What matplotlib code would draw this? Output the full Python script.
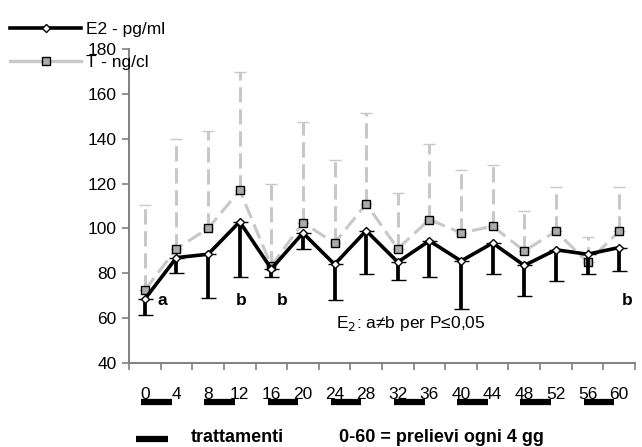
import matplotlib
matplotlib.use("Agg")
import matplotlib.pyplot as plt
import matplotlib.transforms as mtrans
from matplotlib.lines import Line2D

plt.rcParams["font.family"] = ["Liberation Sans", "DejaVu Sans"]

days = [0, 4, 8, 12, 16, 20, 24, 28, 32, 36, 40, 44, 48, 52, 56, 60]
e2_mean = [68.5, 87, 88.5, 103, 82, 98, 84, 99, 85, 94.5, 85.5, 93.5, 83.5, 90.5, 88.5, 91.5]
e2_low = [61.5, 80, 69, 78.5, 78.5, 91, 68, 79.5, 77, 78.5, 64, 79.5, 70, 76.5, 79.5, 81]
t_mean = [72.5, 91, 100, 117, 83.3, 102.6, 93.5, 111, 91, 104, 98, 101, 90, 98.7, 85, 98.7]
t_high = [110.5, 140, 143.5, 169.8, 119.7, 147.4, 130.7, 151.5, 115.7, 137.6, 126, 128.2, 108, 118.7, 96, 118.4]
treat_days = [0, 8, 16, 24, 32, 40, 48, 56]
sig_days = [0, 12, 16, 60]
sig_labels = ["a", "b", "b", "b"]

GREY = "#c8c8c8"
DASH = (0, (5, 2.2))
x = list(range(len(days)))
e2_err = [[m - lo for m, lo in zip(e2_mean, e2_low)], [0] * len(days)]
t_err = [[0] * len(days), [h - m for m, h in zip(t_mean, t_high)]]

fig = plt.figure(figsize=(6.42, 4.47), dpi=100)
ax = fig.add_axes([0.201, 0.188, 0.788, 0.702])

# T series (behind)
t_cont = ax.errorbar(x, t_mean, yerr=t_err, color=GREY, lw=2.2, ls=DASH,
                     ecolor=GREY, elinewidth=2.2, capsize=4.3, capthick=2.0,
                     marker="s", ms=5.5, mfc="#ababab", mec="black", mew=1.0, zorder=2)
t_cont[2][0].set_linestyle(DASH)

# E2 series
ax.errorbar(x, e2_mean, yerr=e2_err, color="black", lw=2.6,
            ecolor="black", elinewidth=2.7, capsize=5.4, capthick=2.7,
            marker="D", ms=4.5, mfc="white", mec="black", mew=1.0, zorder=3)

for d, lab in zip(sig_days, sig_labels):
    i = days.index(d)
    off = {0: 0.55, 12: 0.05, 16: 0.35, 60: 0.25}[d]
    ax.text(i + off, 68, lab, fontsize=12.5, fontweight="bold", ha="center", va="center")

ax.text(6.05, 57.7, "E$_2$: a≠b per P≤0,05", fontsize=12.5, ha="left", va="center")

ax.set_xlim(-0.5, len(days) - 0.5)
ax.set_ylim(40, 180)
ax.set_yticks(range(40, 181, 20))
ax.set_xticks(x)
ax.set_xticklabels([str(d) for d in days])
ax.set_xticks([i - 0.5 for i in range(len(days) + 1)], minor=True)
ax.tick_params(axis="x", which="major", length=0, pad=17, labelsize=12.5)
ax.tick_params(axis="x", which="minor", length=5, width=1.2, color="#808080", direction="out")
ax.tick_params(axis="y", length=5, width=1.2, color="#808080", pad=4, labelsize=12.5)
for s in ["top", "right"]:
    ax.spines[s].set_visible(False)
for s in ["left", "bottom"]:
    ax.spines[s].set_color("#808080")
    ax.spines[s].set_linewidth(1.4)

# treatment bars under the x labels
trans = mtrans.blended_transform_factory(ax.transData, ax.transAxes)
for d in treat_days:
    i = days.index(d)
    ax.plot([i - 0.12, i + 0.85], [-0.124, -0.124], color="black", lw=4.5,
            solid_capstyle="butt", transform=trans, clip_on=False)

# bottom key
fig.add_artist(Line2D([136 / 642, 168 / 642], [1 - 439 / 447] * 2, color="black", lw=4.5,
                      solid_capstyle="butt"))
fig.text(191 / 642, 1 - 438 / 447, "trattamenti", fontsize=13, fontweight="bold", va="center")
fig.text(339 / 642, 1 - 438 / 447, "0-60 = prelievi ogni 4 gg", fontsize=13,
         fontweight="bold", va="center")

handles = [
    Line2D([], [], color="black", lw=2.6, marker="D", ms=4.5, mfc="white", mec="black"),
    Line2D([], [], color=GREY, lw=2.4, marker="s", ms=5.5, mfc="#ababab", mec="black"),
]
fig.legend(handles, ["E2 - pg/ml", "T - ng/cl"], loc="upper left",
           bbox_to_anchor=(10 / 642, 1 - 22 / 447), frameon=False, fontsize=12.5,
           handlelength=4.1, handletextpad=0.3, labelspacing=1.0, borderpad=0,
           borderaxespad=0)

fig.savefig("out.png", dpi=100)
